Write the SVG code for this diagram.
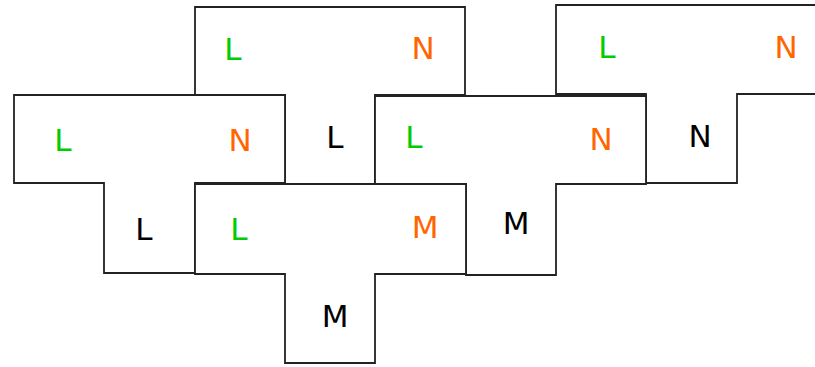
<svg xmlns="http://www.w3.org/2000/svg" width="815" height="367" viewBox="0 0 815 367">
<style>
.p{fill:#fff;stroke:#222;stroke-width:1.8;stroke-linejoin:miter}
text{font-family:"DejaVu Sans","Liberation Sans",sans-serif;font-size:31px;text-anchor:middle;dominant-baseline:central}
.g{fill:#00cc00}.o{fill:#ff6600}.k{fill:#000}
</style>
<rect width="815" height="367" fill="#fff"/>
<g id="piece-top">
<polygon class="p" points="195,7 465,7 465,95 375,95 375,185 285,185 285,95 195,95"/>
<text class="g" x="233" y="49">L</text>
<text class="o" x="423" y="48">N</text>
<text class="k" x="335" y="137">L</text>
</g>
<g id="piece-right">
<polygon class="p" points="556,5 818,5 818,94 737,94 737,183 646,183 646,94 556,94"/>
<text class="g" x="607" y="47">L</text>
<text class="o" x="786" y="47">N</text>
<text class="k" x="700" y="136">N</text>
</g>
<g id="piece-left">
<polygon class="p" points="14,95 285,95 285,183 195,183 195,273 104,273 104,183 14,183"/>
<text class="g" x="63" y="140">L</text>
<text class="o" x="240" y="140">N</text>
<text class="k" x="144" y="229">L</text>
</g>
<g id="piece-middle">
<polygon class="p" points="375,96 646,96 646,184 556,184 556,275 466,275 466,184 375,184"/>
<text class="g" x="414" y="137">L</text>
<text class="o" x="601" y="139">N</text>
<text class="k" x="516" y="223">M</text>
</g>
<g id="piece-bottom">
<polygon class="p" points="195,184 466,184 466,274 375,274 375,363 285,363 285,274 195,274"/>
<text class="g" x="239" y="229">L</text>
<text class="o" x="425" y="227">M</text>
<text class="k" x="335" y="316">M</text>
</g>
<g id="connectors"/>
</svg>
